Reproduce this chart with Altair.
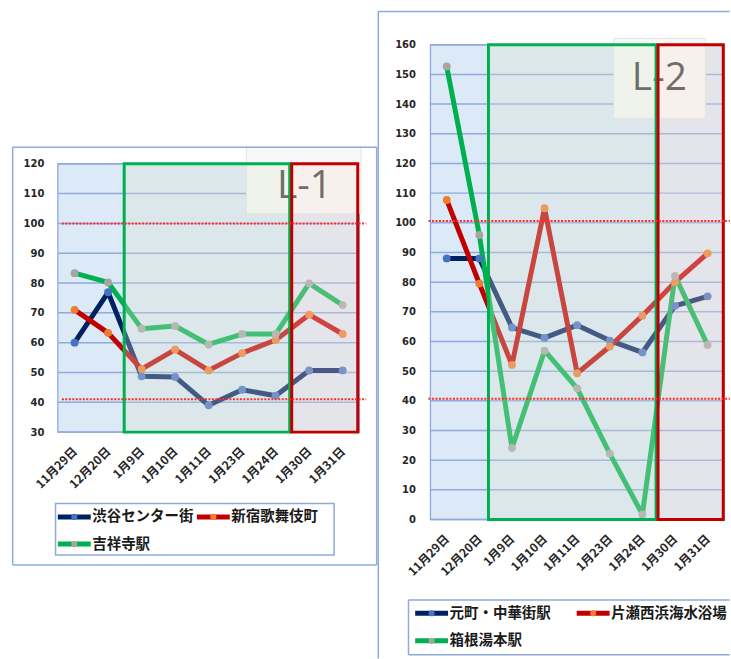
import json
import altair as alt
import pandas as pd

# ---------------- data ----------------
categories = ["11月29日", "12月20日", "1月9日", "1月10日", "1月11日",
              "1月23日", "1月24日", "1月30日", "1月31日"]

l1_stations = ["渋谷センター街", "新宿歌舞伎町", "吉祥寺駅"]
l1_shibuya = [60, 76.9, 48.7, 48.5, 39, 44.2, 42.2, 50.7, 50.7]
l1_shinjuku = [71, 63.3, 51.1, 57.7, 50.7, 56.5, 60.9, 69.4, 62.9]
l1_kichijoji = [83.3, 80.2, 64.7, 65.6, 59.4, 62.9, 62.9, 79.9, 72.6]

l2_stations = ["元町・中華街駅", "片瀬西浜海水浴場", "箱根湯本駅"]
l2_motomachi = [88, 88, 64.7, 61.2, 65.5, 60.3, 56.3, 72, 75.2]
l2_katase = [107.7, 79.5, 52.1, 104.9, 49.3, 58.3, 68.7, 80, 89.7]
l2_hakone = [152.7, 95.9, 24.1, 56.9, 44.2, 22.2, 1.7, 82.1, 58.8]

l1_ticks = [30, 40, 50, 60, 70, 80, 90, 100, 110, 120]
l2_ticks = [0, 10, 20, 30, 40, 50, 60, 70, 80, 90, 100, 110, 120, 130, 140, 150, 160]
l1_limits = [100, 41]
l2_limits = [100.6, 40.7]

# ---------------- styles ----------------
line_colors = ["#002060", "#c00000", "#00b050"]
marker_colors = ["#4472c4", "#ed7d31", "#a5a5a5"]
FRAME = "#8eaadb"
GRID = "#8faadc"
BG = "#dce9f7"
CJK = "Noto Sans CJK JP"

label_expr = json.dumps(categories, ensure_ascii=False) + "[datum.value]"


def one_row():
    return pd.DataFrame({"k": [0]})


def vrule(x0, x1, y0, y1, color, width):
    return alt.Chart(one_row()).mark_rule(color=color, strokeWidth=width).encode(
        x=alt.value(x0), x2=alt.value(x1), y=alt.value(y0), y2=alt.value(y1))


def legend_layers(stations, g):
    """Legend drawn as marks: entry positions are layout constants (pixels rel. to plot)."""
    out = []
    lg = g["legend"]
    if lg.get("rect"):
        x0, x1, y0, y1 = lg["box"]
        out.append(alt.Chart(one_row()).mark_rect(fill="white", stroke=FRAME, strokeWidth=1.5).encode(
            x=alt.value(x0), x2=alt.value(x1), y=alt.value(y0), y2=alt.value(y1)))
    else:
        x0, x1, y0, y1 = lg["box"]
        out.append(alt.Chart(one_row()).mark_rect(fill="white").encode(
            x=alt.value(x0), x2=alt.value(x1), y=alt.value(y0), y2=alt.value(y1)))
        out.append(vrule(x0, x1, y0, y0, FRAME, 1.5))
        out.append(vrule(x0, x1, y1, y1, FRAME, 1.5))
        out.append(vrule(x0, x0, y0, y1, FRAME, 1.5))
    for i, name in enumerate(stations):
        sx, sy = lg["slots"][i]
        out.append(alt.Chart(one_row()).mark_rule(color=line_colors[i], strokeWidth=5).encode(
            x=alt.value(sx), x2=alt.value(sx + 33), y=alt.value(sy), y2=alt.value(sy)))
        out.append(alt.Chart(one_row()).mark_point(filled=True, size=38, opacity=1,
                                                   color=marker_colors[i]).encode(
            x=alt.value(sx + 16.5), y=alt.value(sy)))
        out.append(alt.Chart(pd.DataFrame({"t": [name]})).mark_text(
            font=CJK, fontSize=14.5, fontWeight="bold", color="#1a1a1a",
            align="left", baseline="middle"
        ).encode(x=alt.value(sx + 34.5), y=alt.value(sy + 0.5), text="t:N"))
    return out


def panel(stations, series, ticks, limits, tag, g):
    xs = alt.Scale(domain=[-0.5, 8.5], nice=False, zero=False)
    ys = alt.Scale(domain=g["ydom"], nice=False, zero=False)
    xaxis = alt.Axis(values=list(range(len(categories))), labelExpr=label_expr,
                     title=None, grid=False, domain=False, ticks=False,
                     labelAngle=315, labelAlign="right", labelBaseline="middle",
                     labelPadding=g["xpad"], labelFont=CJK, labelFontWeight="bold",
                     labelFontSize=12, labelColor="#262626",
                     labelOverlap=False, labelFlush=False)
    yaxis = alt.Axis(values=ticks, title=None, grid=False, domain=False, ticks=False,
                     labelFont="DejaVu Sans", labelFontWeight="bold", labelFontSize=10,
                     labelColor="#262626", labelPadding=g["ypad"], labelFlush=False,
                     labelOverlap=False)

    def X(f):
        return alt.X(f, scale=xs, axis=xaxis)

    def Y(f):
        return alt.Y(f, scale=ys, axis=yaxis)

    rows = []
    for s, vals in zip(stations, series):
        for i, v in enumerate(vals):
            rows.append({"idx": i, "station": s, "value": v})
    df = pd.DataFrame(rows)

    lo, hi = ticks[0], ticks[-1]
    bg = alt.Chart(pd.DataFrame({"a": [-0.5], "b": [8.5], "lo": [lo], "hi": [hi]})).mark_rect(
        fill=BG, stroke=GRID, strokeWidth=1.3
    ).encode(x=X("a:Q"), x2="b:Q", y=Y("lo:Q"), y2="hi:Q")

    grid = alt.Chart(pd.DataFrame({"t": ticks, "a": -0.5, "b": 8.5})).mark_rule(
        color=GRID, strokeWidth=1.5
    ).encode(x=X("a:Q"), x2="b:Q", y=Y("t:Q"))

    bx = g["box"]
    box = alt.Chart(pd.DataFrame({"a": [bx[0]], "b": [bx[1]], "c": [bx[2]], "d": [bx[3]]})).mark_rect(
        fill="#f8f8f8", stroke="#e4e4e4", strokeWidth=1
    ).encode(x=X("a:Q"), x2="b:Q", y=Y("c:Q"), y2="d:Q")

    tx = g["text"]
    txt = alt.Chart(pd.DataFrame({"x": [tx[0]], "y": [tx[1]], "t": [tag]})).mark_text(
        font="Open Sans", fontSize=39, fontWeight="normal", color="#3c3c3c",
        align="center", baseline="alphabetic"
    ).encode(x=X("x:Q"), y=Y("y:Q"), text="t:N")

    lines = alt.Chart(df).mark_line(strokeWidth=5, strokeJoin="round", strokeCap="round").encode(
        x=X("idx:Q"),
        y=Y("value:Q"),
        stroke=alt.Stroke("station:N", scale=alt.Scale(domain=stations, range=line_colors),
                          legend=None),
        detail="station:N",
    )

    points = alt.Chart(df).mark_point(filled=True, size=62, opacity=1).encode(
        x=X("idx:Q"),
        y=Y("value:Q"),
        fill=alt.Fill("station:N", scale=alt.Scale(domain=stations, range=marker_colors),
                      legend=None),
    )

    gx, rx = g["green"], g["red"]
    green = alt.Chart(pd.DataFrame({"a": [gx[0]], "b": [gx[1]], "lo": [lo], "hi": [hi]})).mark_rect(
        fill="#dfe6d2", fillOpacity=0.3, stroke="#00b050", strokeWidth=3
    ).encode(x=X("a:Q"), x2="b:Q", y=Y("lo:Q"), y2="hi:Q")
    red = alt.Chart(pd.DataFrame({"a": [rx[0]], "b": [rx[1]], "lo": [lo], "hi": [hi]})).mark_rect(
        fill="#f7dfd2", fillOpacity=0.3, stroke="#c00000", strokeWidth=3
    ).encode(x=X("a:Q"), x2="b:Q", y=Y("lo:Q"), y2="hi:Q")

    lx0, lx1 = g["limx"]
    lim = alt.Chart(pd.DataFrame({"v": limits, "a": lx0, "b": lx1})).mark_rule(
        color="#ff2a2a", strokeWidth=2, strokeDash=[2, 1.5]
    ).encode(x=X("a:Q"), x2="b:Q", y=Y("v:Q"))

    frames = [vrule(fr[0], fr[1], fr[2], fr[3], FRAME, 1.5) for fr in g["frames"]]

    return alt.layer(bg, grid, box, txt, lines, points, green, red, lim, *frames,
                     *legend_layers(stations, g)).properties(width=g["w"], height=g["h"])


g1 = dict(w=302.4, h=388.4, ydom=[30, 159.9], xpad=17, ypad=14,
          box=[5.13, 8.55, 103.2, 125.6], text=[6.86, 108.6],
          green=[1.48, 6.42], red=[6.48, 8.45], limx=[-0.38, 8.70],
          legend=dict(rect=True, box=(-2.3, 277.0, 460.0, 511.7),
                      slots=[(0.0, 473.4), (139.4, 473.4), (0.0, 500.7)]),
          frames=[(-45.3, 319.7, 102.7, 102.7), (-45.3, 319.7, 521.7, 521.7),
                  (-45.3, -45.3, 102.7, 521.7), (319.7, 319.7, 102.7, 521.7)])
g2 = dict(w=294.3, h=476, ydom=[0, 160], xpad=17, ypad=15,
          box=[5.12, 7.93, 135.2, 162.1], text=[6.52, 144.9],
          green=[1.28, 6.42], red=[6.48, 8.48], limx=[-0.56, 8.68],
          legend=dict(rect=False, box=(-22.0, 300.0, 556.7, 611.7),
                      slots=[(-15.3, 570.0), (146.7, 570.0), (-15.3, 597.7)]),
          frames=[(-52.3, 300.0, -33.3, -33.3), (-52.3, -52.3, -33.3, 615.5)])

left = panel(l1_stations, [l1_shibuya, l1_shinjuku, l1_kichijoji], l1_ticks, l1_limits, "L-1", g1)
right = panel(l2_stations, [l2_motomachi, l2_katase, l2_hakone], l2_ticks, l2_limits, "L-2", g2)

chart = alt.hconcat(left, right, spacing=70.6, bounds="flush").resolve_scale(
    stroke="independent", fill="independent", x="independent", y="independent"
).properties(
    padding={"left": 11, "top": 9, "right": 0, "bottom": 0}
).configure_view(stroke=None)

chart.save("out.html", embed_options={"renderer": "svg", "actions": False})
